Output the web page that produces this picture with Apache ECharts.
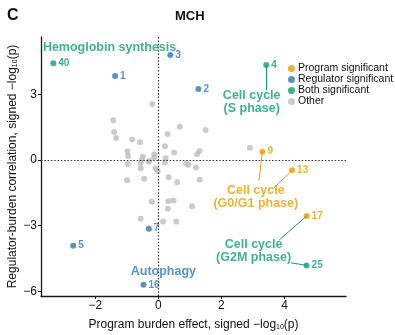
<!DOCTYPE html>
<html>
<head>
<meta charset="utf-8">
<script src="https://cdn.jsdelivr.net/npm/echarts@6/dist/echarts.min.js"></script>
<style>
  html, body { margin: 0; padding: 0; background: #fff; }
  #chart { width: 395px; height: 335px; }
</style>
</head>
<body>
<div id="chart"></div>
<script>
// Programs with neither effect significant
const otherX = [-0.19, -1.43, -1.40, -1.34, -0.83, -0.58, -0.98, -0.96, -0.49, -0.13, -0.13,
  -0.97, -0.56, -0.30, -0.09, -0.02, -0.56, -0.45, -0.99, 0.21, 0.29, 0.21, 0.50, 0.68,
  0.33, 0.60, -0.21, 0.32, 0.48, 0.30, 1.07, -0.56, 0.15, 0.57, 0.88, 0.95, 1.19, 1.23,
  1.31, 1.31, 1.50, 2.90, 0.23, -0.52, -0.29];
const otherY = [2.56, 1.82, 1.28, 1.01, 0.94, 0.82, 0.40, 0.18, 0.16, 0.26, 0.12,
  -0.18, -0.14, -0.08, -0.39, -0.50, -0.37, -0.86, -0.92, -0.11, 1.19, 0.63, 0.34, 1.52,
  -0.79, -1.01, -1.90, -1.88, -1.85, -2.23, -2.11, -2.69, -2.81, -2.81, -0.17, -0.21, -0.34, 0.28,
  0.41, -0.90, 1.37, 0.56, 0.08, 0.01, -0.03];

// Program-burden significant only
const programIds = [9, 13, 17];
const programX = [3.30, 4.24, 4.70];
const programY = [0.38, -0.47, -2.56];

// Regulator-burden significant only
const regulatorIds = [1, 2, 3, 5, 7, 16];
const regulatorX = [-1.37, 1.27, 0.38, -2.70, -0.30, -0.47];
const regulatorY = [3.84, 3.25, 4.81, -3.92, -3.14, -5.71];

// Significant on both axes
const bothIds = [40, 4, 25];
const bothX = [-3.33, 3.42, 4.70];
const bothY = [4.43, 4.35, -4.82];

const xTicks = [-2, 0, 2, 4];
const yTicks = [-6, -3, 0, 3];

const seriesNames = ['Program significant', 'Regulator significant', 'Both significant', 'Other'];
const COLORS = { program: '#E69F00', regulator: '#2E78B7', both: '#0E9E74', other: '#BEBEBE' };
const FONT = '"Liberation Sans", Arial, Helvetica, sans-serif';

// Pathway annotations: [text, x, y, colour, align]
const notes = [
  ['Hemoglobin synthesis', -3.66, 5.17, COLORS.both, 'left'],
  ['Cell cycle\n(S phase)', 2.96, 2.65, COLORS.both, 'center'],
  ['Cell cycle\n(G0/G1 phase)', 3.09, -1.68, COLORS.program, 'center'],
  ['Cell cycle\n(G2M phase)', 3.02, -4.16, COLORS.both, 'center'],
  ['Autophagy', 0.16, -5.11, COLORS.regulator, 'center']
];

// Leader lines from points to annotations: [x1, y1, x2, y2, colour]
const leaders = [
  [3.42, 4.35, 3.42, 3.20, COLORS.both],
  [3.30, 0.38, 3.19, -0.95, COLORS.program],
  [4.24, -0.47, 3.64, -1.31, COLORS.program],
  [4.70, -2.56, 3.83, -3.66, COLORS.both],
  [4.70, -4.82, 4.20, -4.70, COLORS.both]
];

function pts(xs, ys, ids) {
  return xs.map((x, i) => ({ value: [x, ys[i]], name: ids ? String(ids[i]) : '' }));
}

function numberLabel(color) {
  return {
    show: true, position: 'right', distance: 2, formatter: '{b}',
    color: color, fontSize: 10, fontWeight: 'bold', fontFamily: FONT
  };
}

const chart = echarts.init(document.getElementById('chart'), null, { renderer: 'canvas' });

const axisCommon = {
  type: 'value',
  splitLine: { show: false },
  axisLine: { show: true, onZero: false, lineStyle: { color: '#1a1a1a', width: 1.3 } },
  axisTick: { show: true, length: 3, lineStyle: { color: '#1a1a1a', width: 1 } },
  nameLocation: 'middle',
  nameMoveOverlap: false,
  nameTextStyle: {
    color: '#111', fontSize: 12, fontFamily: FONT,
    rich: { sub: { fontSize: 7, verticalAlign: 'bottom', padding: [6, 0, 0, 0], color: '#111', fontFamily: FONT } }
  }
};

chart.setOption({
  animation: false,
  title: [
    { text: 'MCH', left: 170, top: 5,
      textStyle: { fontSize: 13, fontWeight: 'bold', color: '#111', fontFamily: FONT } },
    { text: 'C', left: 2, top: 3,
      textStyle: { fontSize: 16, fontWeight: 'bold', color: '#111', fontFamily: FONT } }
  ],
  legend: {
    data: seriesNames.map(n => ({ name: n, icon: 'circle' })),
    orient: 'vertical', left: 283, top: 58,
    itemWidth: 7, itemHeight: 7, itemGap: 0,
    textStyle: { fontSize: 10.5, color: '#111', fontFamily: FONT, padding: [0, 0, 0, -2] }
  },
  grid: { left: 41, right: 49, top: 37, bottom: 39, outerBoundsMode: 'none', containLabel: false },
  xAxis: Object.assign({}, axisCommon, {
    min: -3.72, max: 5.95,
    name: 'Program burden effect, signed \u2212log{sub|10}(p)',
    nameGap: 22,
    axisTick: Object.assign({}, axisCommon.axisTick, { customValues: xTicks }),
    axisLabel: { customValues: xTicks, color: '#111', fontSize: 12, fontFamily: FONT, margin: 4,
      formatter: v => (v < 0 ? '\u2212' + Math.abs(v) : String(v)) }
  }),
  yAxis: Object.assign({}, axisCommon, {
    min: -6.22, max: 5.63,
    name: 'Regulator-burden correlation, signed \u2212log{sub|10}(p)',
    nameGap: 22,
    axisTick: Object.assign({}, axisCommon.axisTick, { customValues: yTicks }),
    axisLabel: { customValues: yTicks, color: '#111', fontSize: 12, fontFamily: FONT, margin: 4,
      formatter: v => (v < 0 ? '\u2212' + Math.abs(v) : String(v)) }
  }),
  series: [
    {
      name: 'Other', type: 'scatter', symbolSize: 6,
      itemStyle: { color: COLORS.other },
      data: pts(otherX, otherY),
      markLine: {
        silent: true, symbol: 'none', label: { show: false },
        lineStyle: { type: [1.5, 1.8], color: '#333', width: 1.2 },
        data: [{ xAxis: 0 }, { yAxis: 0 }]
      },
      z: 2
    },
    {
      name: 'Program significant', type: 'scatter', symbolSize: 6,
      itemStyle: { color: COLORS.program },
      label: numberLabel(COLORS.program),
      data: pts(programX, programY, programIds), z: 4
    },
    {
      name: 'Regulator significant', type: 'scatter', symbolSize: 6,
      itemStyle: { color: COLORS.regulator },
      label: numberLabel(COLORS.regulator),
      data: pts(regulatorX, regulatorY, regulatorIds), z: 4
    },
    {
      name: 'Both significant', type: 'scatter', symbolSize: 6,
      itemStyle: { color: COLORS.both },
      label: numberLabel(COLORS.both),
      data: pts(bothX, bothY, bothIds), z: 4,
      markLine: {
        silent: true, symbol: 'none', label: { show: false },
        data: leaders.map(l => [
          { coord: [l[0], l[1]], lineStyle: { color: l[4], width: 1, type: 'solid' } },
          { coord: [l[2], l[3]] }
        ])
      }
    },
    {
      name: 'notes', type: 'scatter', symbolSize: 0, silent: true, z: 5,
      data: notes.map(n => ({
        value: [n[1], n[2]], name: n[0],
        label: {
          show: true, position: 'inside', formatter: '{b}', align: n[4],
          color: n[3], fontSize: 12.5, fontWeight: 'bold', fontFamily: FONT, lineHeight: 13
        }
      }))
    }
  ]
});
</script>
</body>
</html>
